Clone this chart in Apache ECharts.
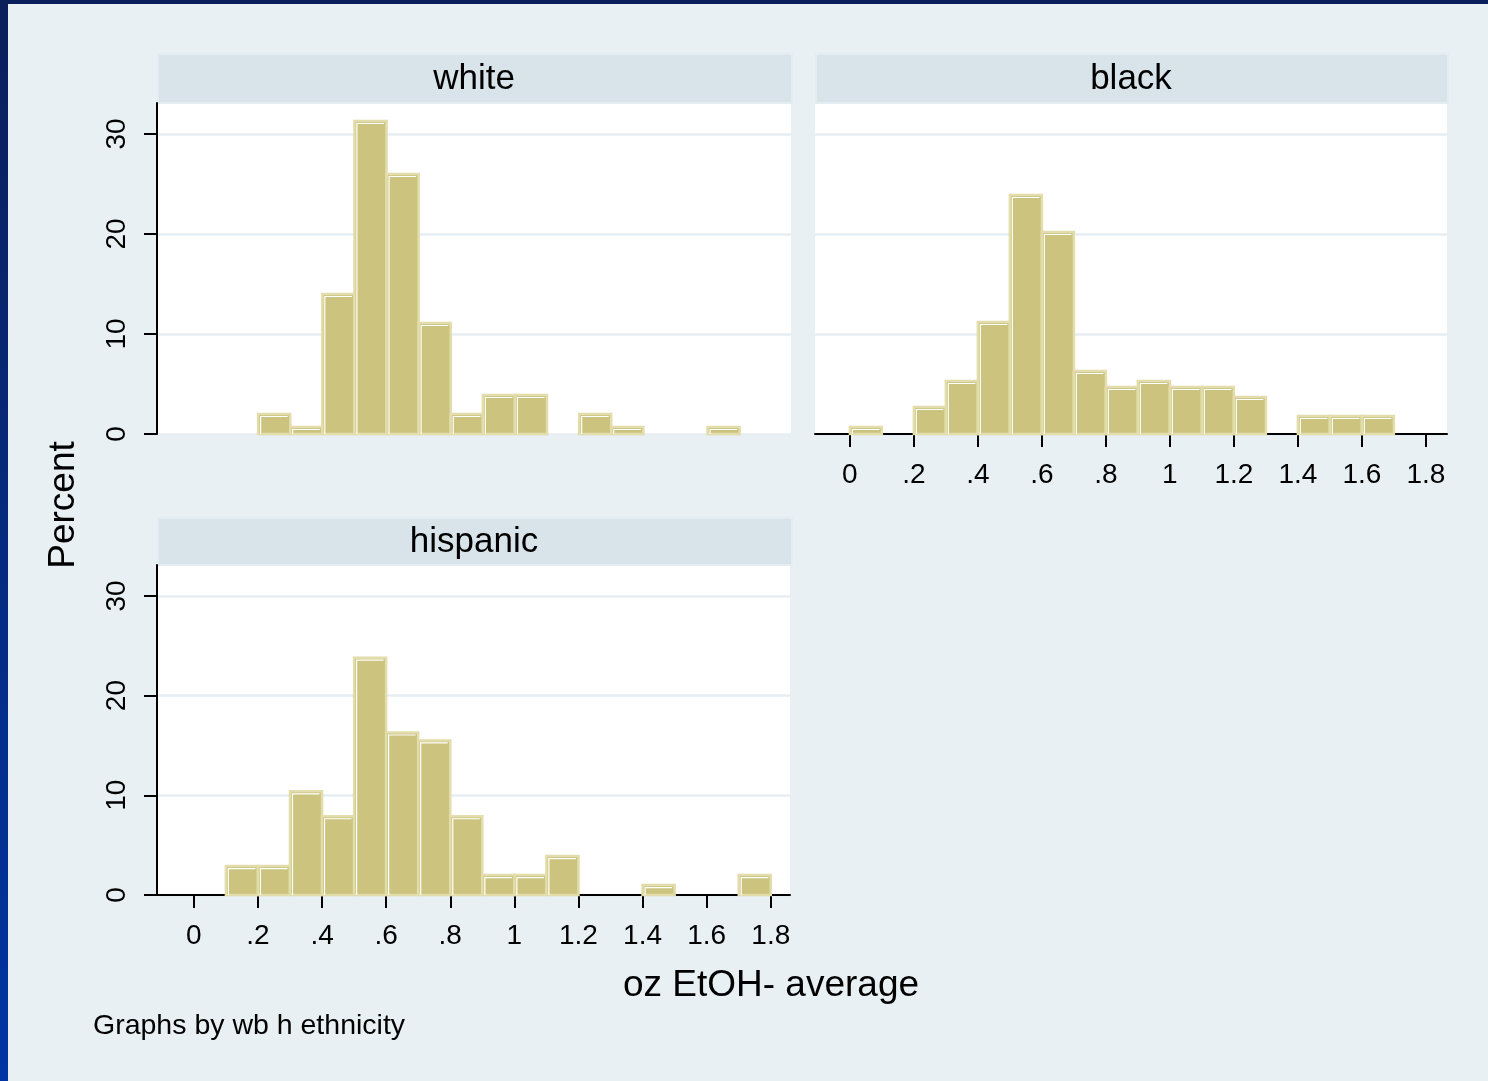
<!DOCTYPE html>
<html lang="en">
<head>
    <meta charset="UTF-8">
    <title>oz EtOH- average by ethnicity</title>
    <script src="https://cdn.jsdelivr.net/npm/echarts@6/dist/echarts.min.js"></script>
    <style>
        body { margin: 0; background: #e8f0f3; }
    </style>
</head>
<body>
    <div id="chart" style="width:1488px; height:1081px;"></div>
    <script>
        // data (percent per 0.1 oz bin)
        var binStarts = [0, 0.1, 0.2, 0.3, 0.4, 0.5, 0.6, 0.7, 0.8, 0.9, 1.0, 1.1, 1.2, 1.3, 1.4, 1.5, 1.6, 1.7];
        var binWidth = 0.1;
        var whitePct = [0, 0, 2.0, 0.7, 14.0, 31.3, 26.0, 11.1, 2.0, 3.9, 3.9, 0, 2.0, 0.7, 0, 0, 0.7, 0];
        var blackPct = [0.7, 0, 2.7, 5.3, 11.2, 23.9, 20.2, 6.3, 4.7, 5.3, 4.7, 4.7, 3.7, 0, 1.8, 1.8, 1.8, 0];
        var hispanicPct = [0, 2.9, 2.9, 10.4, 7.9, 23.8, 16.3, 15.5, 7.9, 2.0, 2.0, 3.9, 0, 0, 1.0, 0, 0, 2.0];
        var panelNames = ['white', 'black', 'hispanic'];
        var xTickValues = [0, 0.2, 0.4, 0.6, 0.8, 1, 1.2, 1.4, 1.6, 1.8];
        var xTickLabels = ['0', '.2', '.4', '.6', '.8', '1', '1.2', '1.4', '1.6', '1.8'];
        var yTickValues = [0, 10, 20, 30];

        var FONT = 'Liberation Sans, Arial, sans-serif';
        var chart = echarts.init(document.getElementById('chart'));

        function pairs(vals) {
            return binStarts.map(function (b, i) { return [b, vals[i]]; });
        }

        // histogram bars
        function renderBar(params, api) {
            var x0 = api.value(0), h = api.value(1);
            if (!h) return;
            var p0 = api.coord([x0, h]);
            var p1 = api.coord([x0 + binWidth, 0]);
            var w = p1[0] - p0[0], ht = p1[1] - p0[1];
            return {
                type: 'group',
                children: [{
                    type: 'rect',
                    shape: { x: p0[0], y: p0[1], width: w, height: ht },
                    style: { fill: '#cbc37e', stroke: '#e3dcab', lineWidth: 2.5 }
                }, {
                    type: 'polyline',
                    shape: { points: [[p0[0] + 2.5, p1[1]], [p0[0] + 2.5, p0[1] + 2.5], [p1[0] - 2.5, p0[1] + 2.5]] },
                    style: { stroke: '#ffffff', lineWidth: 1.2, fill: null }
                }]
            };
        }

        function xAxisCfg(idx, min, max, show) {
            return {
                type: 'value', gridIndex: idx, min: min, max: max,
                axisLine: { show: show, onZero: false, lineStyle: { color: '#000', width: 2 } },
                axisTick: { show: show, customValues: xTickValues, length: 13, lineStyle: { color: '#000', width: 2 } },
                axisLabel: {
                    show: show, customValues: xTickValues, margin: 27,
                    fontFamily: FONT, fontSize: 28, color: '#000',
                    formatter: function (v) { return xTickLabels[xTickValues.indexOf(v)]; }
                },
                splitLine: { show: false }
            };
        }

        function yAxisCfg(idx, show) {
            return {
                type: 'value', gridIndex: idx, min: 0, max: 33.1, interval: 10,
                axisLine: { show: show, onZero: false, lineStyle: { color: '#000', width: 2 } },
                axisTick: { show: show, customValues: yTickValues, length: 13, lineStyle: { color: '#000', width: 2 } },
                axisLabel: {
                    show: show, customValues: yTickValues, rotate: 90, margin: 26,
                    fontFamily: FONT, fontSize: 28, color: '#000'
                },
                splitLine: { show: true, lineStyle: { color: '#e6eef2', width: 2.5 } }
            };
        }

        function header(x, y, w, h, label) {
            return [{
                type: 'rect', left: x, top: y,
                shape: { width: w, height: h },
                style: { fill: '#d8e4ea', stroke: '#e3ecf0', lineWidth: 2 }
            }, {
                type: 'text', x: x + w / 2, y: y + h / 2 + 2,
                style: { text: label, fill: '#000', font: '35px ' + FONT, align: 'center', verticalAlign: 'middle' }
            }];
        }

        var graphics = [
            // dark frame from the slide
            { type: 'rect', left: 0, top: 0, shape: { width: 1488, height: 4 }, style: { fill: '#0b1f5a' } },
            {
                type: 'rect', left: 0, top: 0, shape: { width: 8, height: 1081 },
                style: {
                    fill: new echarts.graphic.LinearGradient(0, 0, 0, 1, [
                        { offset: 0, color: '#0b1f5a' }, { offset: 1, color: '#0035a3' }
                    ])
                }
            }
        ];
        graphics = graphics
            .concat(header(157, 53, 634, 49, panelNames[0]))
            .concat(header(815, 53, 632, 49, panelNames[1]))
            .concat(header(157, 517, 634, 47, panelNames[2]));
        graphics.push({
            type: 'text', x: 64, y: 505, rotation: Math.PI / 2,
            style: { text: 'Percent', fill: '#000', font: '37px ' + FONT, align: 'center', verticalAlign: 'middle' }
        });
        graphics.push({
            type: 'text', x: 771, y: 986,
            style: { text: 'oz EtOH- average', fill: '#000', font: '37px ' + FONT, align: 'center', verticalAlign: 'middle' }
        });
        graphics.push({
            type: 'text', x: 93, y: 1026,
            style: { text: 'Graphs by wb h ethnicity', fill: '#000', font: '28.5px ' + FONT, align: 'left', verticalAlign: 'middle' }
        });

        var gridBase = { show: true, backgroundColor: '#ffffff', borderWidth: 0, containLabel: false, outerBoundsMode: 'none' };

        chart.setOption({
            backgroundColor: '#e8f0f3',
            animation: false,
            grid: [
                Object.assign({ left: 157, top: 103, width: 634, height: 331 }, gridBase),
                Object.assign({ left: 815, top: 103, width: 632, height: 331 }, gridBase),
                Object.assign({ left: 157, top: 565, width: 633, height: 330 }, gridBase)
            ],
            xAxis: [
                xAxisCfg(0, -0.115, 1.86, false),
                xAxisCfg(1, -0.109, 1.866, true),
                xAxisCfg(2, -0.115, 1.86, true)
            ],
            yAxis: [
                yAxisCfg(0, true),
                yAxisCfg(1, false),
                yAxisCfg(2, true)
            ],
            series: [
                { name: panelNames[0], type: 'custom', xAxisIndex: 0, yAxisIndex: 0, renderItem: renderBar, encode: { x: 0, y: 1 }, data: pairs(whitePct) },
                { name: panelNames[1], type: 'custom', xAxisIndex: 1, yAxisIndex: 1, renderItem: renderBar, encode: { x: 0, y: 1 }, data: pairs(blackPct) },
                { name: panelNames[2], type: 'custom', xAxisIndex: 2, yAxisIndex: 2, renderItem: renderBar, encode: { x: 0, y: 1 }, data: pairs(hispanicPct) }
            ],
            graphic: graphics
        });
    </script>
</body>
</html>
